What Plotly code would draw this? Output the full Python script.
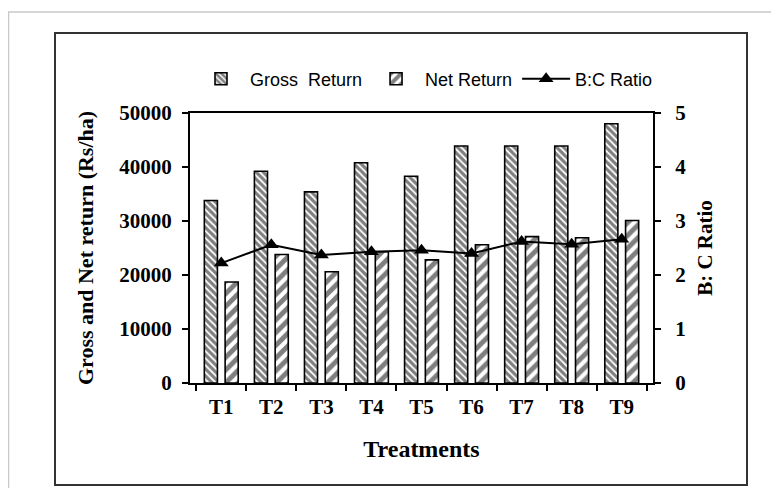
import plotly.graph_objects as go

treatments = ["T1", "T2", "T3", "T4", "T5", "T6", "T7", "T8", "T9"]
gross_return = [33800, 39200, 35400, 40800, 38300, 43900, 43900, 43900, 48000]
net_return = [18700, 23800, 20600, 24300, 22800, 25600, 27100, 26900, 30100]
bc_ratio = [2.22, 2.56, 2.37, 2.43, 2.46, 2.40, 2.62, 2.57, 2.66]

# page body has an 8px default margin
OFF = 8
W, H = 779 - OFF, 488 - OFF
PL, PR, PT, PB = 190, 653, 113, 383   # plot area in page pixels
L, R, T, B = PL - OFF, W - (PR - OFF), PT - OFF, H - (PB - OFF)
pw, ph = PR - PL, PB - PT

def px(x):
    return (x - PL) / pw

def py(y):
    return (PB - y) / ph

serif = "Liberation Serif, Times New Roman, serif"

fig = go.Figure()
fig.add_trace(go.Bar(
    x=treatments, y=gross_return, name="Gross\u00a0\u00a0Return",
    marker=dict(color="white", line=dict(color="black", width=1.6),
                pattern=dict(shape="\\", size=5, solidity=0.65, fgcolor="black", bgcolor="white")),
))
fig.add_trace(go.Bar(
    x=treatments, y=net_return, name="Net Return",
    marker=dict(color="white", line=dict(color="black", width=1.6),
                pattern=dict(shape="/", size=9, solidity=0.55, fgcolor="black", bgcolor="white")),
))
fig.add_trace(go.Scatter(
    x=treatments, y=bc_ratio, name="B:C Ratio", yaxis="y2",
    mode="lines+markers",
    line=dict(color="black", width=2),
    marker=dict(symbol="triangle-up", size=13, color="black"),
))

axis_font = dict(family=serif, size=21, color="black", weight="bold")

fig.update_layout(
    width=W, height=H,
    margin=dict(l=L, r=R, t=T, b=B, pad=0),
    paper_bgcolor="white", plot_bgcolor="white",
    barmode="group", bargap=0.17, bargroupgap=0.37,
    showlegend=True,
    legend=dict(orientation="h", x=px(425), y=py(79), xanchor="center", yanchor="middle",
                font=dict(family="Liberation Sans, Arial, sans-serif", size=18, color="black"),
                itemwidth=48, bgcolor="rgba(0,0,0,0)"),
    xaxis=dict(
        type="category", tickson="boundaries", ticks="outside", ticklen=6, tickwidth=2,
        tickcolor="black", showline=True, linewidth=2, linecolor="black", mirror=True,
        showgrid=False, tickfont=axis_font, ticklabelstandoff=4,
        title=dict(text="Treatments", font=dict(family=serif, size=24, color="black", weight="bold"),
                   standoff=22),
    ),
    yaxis=dict(
        range=[0, 50000], dtick=10000, tick0=0, tickformat="d", ticks="outside", ticklen=6,
        tickwidth=2, tickcolor="black", showline=True, linewidth=2, linecolor="black",
        showgrid=False, zeroline=False, tickfont=axis_font, ticklabelstandoff=6,
        title=dict(text="Gross and Net return (Rs/ha)",
                   font=dict(family=serif, size=22, color="black", weight="bold"), standoff=20),
    ),
    yaxis2=dict(
        overlaying="y", side="right", range=[0, 5], dtick=1, tick0=0,
        ticks="outside", ticklen=6, tickwidth=2, tickcolor="black",
        showline=True, linewidth=2, linecolor="black",
        showgrid=False, zeroline=False, tickfont=axis_font, ticklabelstandoff=10,
        title=dict(text="B: C Ratio", font=dict(family=serif, size=21, color="black", weight="bold"),
                   standoff=12),
    ),
    shapes=[
        dict(type="line", xref="paper", yref="paper", x0=px(8), x1=px(779), y0=py(12), y1=py(12),
             line=dict(color="#c8c8c8", width=1.5)),
        dict(type="line", xref="paper", yref="paper", x0=px(8.5), x1=px(8.5), y0=py(12), y1=py(488),
             line=dict(color="#c8c8c8", width=1.5)),
        dict(type="rect", xref="paper", yref="paper", x0=px(55), x1=px(747), y0=py(485), y1=py(33),
             line=dict(color="#333", width=2)),
    ],
)

fig.write_html("out.html")
